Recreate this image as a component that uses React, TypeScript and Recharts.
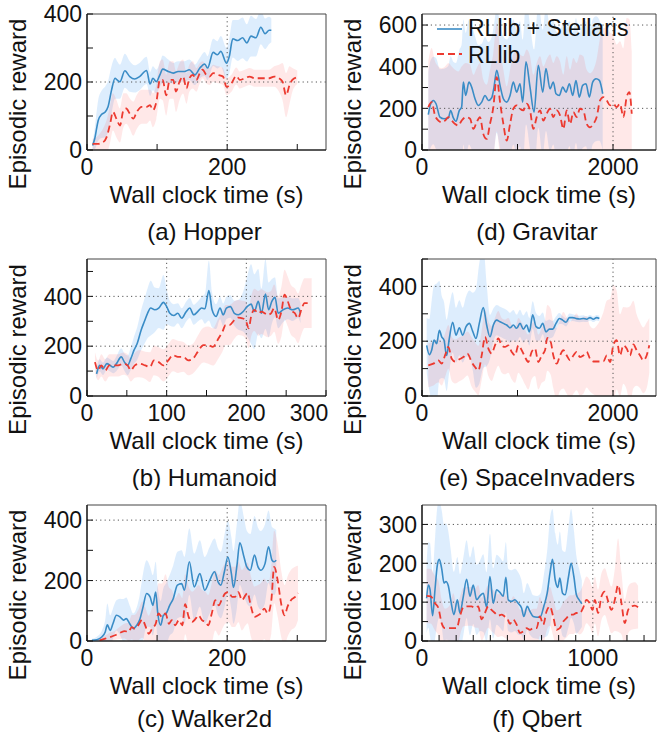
import React from "react";
import { Area, ComposedChart, Legend, Line, ReferenceArea, ReferenceLine, XAxis, YAxis } from "recharts";

// [time (s), mean reward, half-width of the shaded band]
type Point = [number, number, number];

const hopperStellaris: Point[] = [
  [8, 13, 10], [11, 33, 30], [16, 87, 60], [21, 105, 70], [26, 112, 75], [30, 127, 75], [35, 176, 70], [40, 211, 60],
  [43, 206, 55], [47, 201, 50], [54, 233, 50], [61, 216, 45], [68, 209, 40], [75, 216, 40], [85, 234, 40], [90, 194, 35],
  [94, 211, 35], [99, 201, 35], [104, 221, 35], [108, 238, 40], [116, 231, 35], [123, 226, 30], [130, 231, 30], [139, 231, 30],
  [146, 236, 30], [154, 221, 30], [161, 241, 30], [168, 253, 35], [172, 241, 35], [180, 287, 40], [186, 280, 40], [191, 290, 45],
  [199, 255, 45], [203, 275, 50], [208, 327, 55], [215, 322, 60], [222, 330, 60], [228, 315, 55], [234, 335, 60], [241, 330, 55],
  [248, 361, 50], [254, 342, 45], [260, 352, 40], [263, 352, 35],
];
const hopperRllib: Point[] = [
  [8, 18, 15], [16, 18, 25], [23, 23, 40], [28, 38, 50], [33, 77, 55], [37, 112, 55], [42, 92, 55], [47, 72, 50],
  [52, 117, 50], [56, 122, 45], [61, 107, 45], [66, 92, 50], [71, 112, 50], [78, 127, 50], [85, 127, 50], [90, 132, 45],
  [94, 117, 50], [99, 142, 50], [104, 206, 55], [108, 206, 60], [113, 161, 60], [118, 206, 55], [123, 206, 55], [127, 172, 60],
  [132, 201, 55], [137, 216, 50], [142, 181, 45], [146, 211, 40], [151, 221, 40], [156, 206, 35], [161, 226, 30], [165, 236, 25],
  [170, 221, 25], [175, 216, 25], [180, 226, 25], [187, 221, 25], [194, 216, 25], [199, 186, 25], [206, 196, 25], [213, 218, 25],
  [218, 206, 25], [225, 211, 25], [232, 216, 25], [239, 211, 25], [246, 211, 25], [253, 211, 25], [260, 211, 25], [267, 216, 30],
  [274, 211, 40], [279, 201, 55], [284, 161, 65], [289, 191, 55], [293, 206, 35], [300, 214, 20],
];

const gravitarStellaris: Point[] = [
  [66, 170, 200], [91, 222, 210], [119, 238, 210], [147, 222, 220], [188, 158, 230], [230, 150, 240], [276, 154, 250], [300, 190, 260],
  [328, 154, 270], [356, 138, 280], [391, 190, 290], [415, 206, 300], [433, 326, 300], [457, 262, 300], [492, 326, 300], [520, 302, 300],
  [555, 246, 300], [590, 214, 290], [625, 230, 280], [660, 262, 280], [695, 238, 280], [730, 251, 290], [754, 302, 300], [782, 383, 300],
  [817, 310, 300], [852, 246, 300], [887, 230, 300], [922, 262, 300], [956, 326, 300], [991, 278, 300], [1026, 318, 300], [1054, 230, 300],
  [1089, 423, 300], [1131, 302, 300], [1173, 182, 300], [1218, 407, 300], [1264, 278, 300], [1298, 391, 300], [1340, 294, 300], [1375, 326, 300],
  [1403, 270, 300], [1438, 262, 300], [1473, 302, 300], [1508, 278, 300], [1543, 318, 300], [1578, 262, 300], [1612, 334, 300], [1647, 254, 300],
  [1682, 310, 300], [1717, 318, 300], [1752, 254, 300], [1787, 326, 300], [1822, 342, 300], [1857, 334, 290], [1892, 270, 270],
];
const gravitarRllib: Point[] = [
  [66, 206, 220], [101, 230, 260], [136, 166, 260], [171, 141, 260], [206, 133, 260], [241, 141, 260], [276, 158, 260], [311, 141, 260],
  [346, 125, 260], [380, 117, 260], [415, 141, 260], [461, 158, 260], [503, 150, 260], [538, 101, 260], [572, 133, 260], [607, 158, 260],
  [642, 77, 260], [677, 53, 260], [712, 125, 260], [747, 206, 260], [782, 350, 260], [817, 230, 260], [852, 125, 260], [887, 45, 260],
  [922, 125, 260], [956, 198, 260], [991, 214, 260], [1026, 198, 260], [1061, 190, 260], [1096, 222, 260], [1131, 190, 260], [1166, 101, 260],
  [1201, 158, 260], [1236, 190, 260], [1271, 141, 260], [1305, 174, 260], [1340, 198, 260], [1375, 158, 260], [1410, 190, 260], [1445, 166, 260],
  [1480, 101, 260], [1515, 190, 260], [1550, 125, 260], [1585, 182, 260], [1619, 158, 260], [1654, 198, 260], [1689, 190, 260], [1724, 125, 260],
  [1759, 109, 260], [1794, 125, 260], [1829, 158, 280], [1864, 238, 300], [1899, 254, 330], [1934, 238, 350], [1969, 214, 350], [2003, 222, 330],
  [2038, 206, 300], [2073, 222, 300], [2108, 158, 330], [2143, 254, 380], [2171, 278, 350], [2196, 174, 300],
];

const humanoidStellaris: Point[] = [
  [12, 89, 20], [16, 123, 25], [20, 109, 25], [25, 130, 25], [29, 123, 25], [33, 116, 25], [37, 130, 30], [43, 157, 35],
  [47, 136, 35], [51, 123, 40], [55, 150, 45], [59, 184, 55], [63, 211, 65], [68, 265, 80], [72, 299, 90], [76, 332, 100],
  [80, 353, 110], [85, 346, 90], [90, 353, 80], [96, 376, 110], [100, 359, 70], [104, 332, 50], [109, 323, 45], [114, 332, 40],
  [119, 312, 40], [124, 336, 40], [129, 353, 40], [134, 326, 40], [139, 339, 40], [144, 353, 45], [148, 350, 60], [153, 423, 120],
  [157, 346, 70], [162, 319, 50], [167, 353, 45], [171, 326, 45], [175, 353, 45], [180, 359, 45], [185, 332, 50], [190, 326, 60],
  [196, 339, 80], [201, 359, 120], [206, 369, 160], [210, 339, 150], [215, 380, 130], [219, 332, 100], [224, 409, 140], [228, 346, 110],
  [232, 380, 90], [236, 396, 80], [240, 332, 60], [246, 346, 50], [252, 353, 45], [258, 346, 45], [265, 353, 40], [268, 332, 40],
];
const humanoidRllib: Point[] = [
  [10, 136, 40], [14, 103, 40], [18, 123, 45], [23, 103, 45], [28, 123, 45], [33, 123, 45], [39, 123, 45], [46, 130, 45],
  [51, 123, 45], [55, 103, 45], [60, 123, 50], [66, 130, 55], [73, 123, 55], [79, 116, 60], [84, 143, 60], [90, 136, 60],
  [96, 123, 65], [102, 143, 65], [108, 164, 65], [114, 157, 65], [121, 157, 60], [127, 143, 60], [133, 150, 60], [139, 177, 65],
  [146, 204, 70], [152, 204, 75], [158, 197, 75], [165, 231, 80], [170, 258, 80], [174, 285, 80], [179, 285, 80], [185, 305, 75],
  [190, 315, 70], [195, 312, 70], [199, 305, 75], [203, 272, 80], [206, 319, 80], [210, 346, 85], [215, 332, 90], [219, 339, 90],
  [223, 332, 90], [227, 326, 90], [231, 332, 90], [235, 353, 95], [240, 305, 95], [244, 339, 100], [248, 407, 100], [252, 380, 100],
  [256, 346, 100], [261, 332, 100], [265, 312, 100], [269, 346, 100], [273, 373, 100], [278, 373, 100], [282, 373, 100],
];

const spaceStellaris: Point[] = [
  [49, 185, 100], [77, 151, 130], [101, 167, 180], [126, 204, 200], [154, 191, 220], [182, 240, 180], [206, 216, 150], [230, 204, 140],
  [258, 148, 130], [286, 210, 120], [321, 269, 110], [356, 222, 100], [391, 249, 100], [426, 222, 100], [461, 253, 110], [496, 265, 120],
  [530, 237, 140], [565, 210, 180], [600, 265, 220], [642, 323, 220], [677, 259, 150], [712, 216, 80], [747, 259, 60], [782, 277, 55],
  [817, 271, 55], [852, 265, 55], [887, 259, 55], [922, 249, 55], [956, 259, 55], [991, 247, 50], [1026, 265, 50], [1061, 244, 50],
  [1096, 259, 50], [1124, 234, 50], [1159, 296, 50], [1194, 253, 50], [1229, 247, 45], [1264, 265, 40], [1298, 234, 40], [1333, 244, 35],
  [1368, 244, 30], [1403, 265, 25], [1438, 283, 20], [1473, 277, 15], [1508, 269, 15], [1543, 286, 15], [1578, 286, 12], [1612, 283, 12],
  [1647, 281, 12], [1689, 283, 12], [1724, 280, 10], [1759, 286, 10], [1794, 280, 10], [1829, 286, 10], [1857, 283, 10],
];
const spaceRllib: Point[] = [
  [66, 112, 80], [119, 118, 80], [171, 130, 80], [206, 118, 80], [241, 148, 80], [276, 179, 80], [311, 136, 80], [346, 126, 80],
  [391, 134, 80], [433, 142, 80], [475, 155, 80], [520, 124, 90], [555, 106, 90], [590, 93, 90], [625, 148, 90], [660, 216, 100],
  [695, 173, 100], [730, 155, 100], [764, 185, 100], [799, 210, 100], [834, 185, 100], [869, 179, 100], [904, 185, 100], [939, 161, 100],
  [974, 148, 100], [1009, 185, 100], [1044, 167, 100], [1079, 142, 100], [1113, 124, 100], [1148, 161, 100], [1183, 173, 100], [1218, 124, 100],
  [1253, 148, 100], [1288, 167, 110], [1312, 212, 120], [1347, 198, 120], [1375, 148, 120], [1410, 118, 130], [1445, 148, 130], [1480, 167, 140],
  [1515, 148, 140], [1550, 130, 140], [1585, 148, 140], [1619, 161, 140], [1654, 142, 140], [1689, 148, 140], [1724, 161, 130], [1759, 136, 120],
  [1794, 126, 120], [1829, 126, 130], [1864, 126, 150], [1899, 126, 180], [1934, 148, 200], [1969, 124, 230], [2003, 185, 220], [2038, 204, 180],
  [2073, 148, 150], [2108, 185, 140], [2143, 173, 150], [2178, 148, 180], [2213, 188, 160], [2248, 167, 130], [2283, 148, 120], [2317, 130, 120],
  [2352, 148, 120], [2380, 185, 100],
];

const walkerStellaris: Point[] = [
  [7, 2, 5], [14, 4, 10], [21, 13, 20], [26, 30, 40], [29, 54, 70], [33, 35, 50], [37, 57, 50], [42, 85, 50],
  [47, 80, 60], [52, 69, 70], [56, 74, 70], [61, 57, 60], [66, 41, 50], [71, 52, 60], [75, 69, 80], [80, 113, 110],
  [85, 157, 110], [90, 146, 100], [94, 118, 100], [98, 162, 100], [101, 91, 90], [105, 52, 80], [109, 85, 90], [113, 91, 100],
  [118, 118, 100], [123, 140, 110], [129, 185, 110], [135, 190, 110], [139, 168, 110], [146, 262, 110], [153, 179, 110], [161, 223, 110],
  [168, 168, 110], [175, 201, 110], [182, 229, 110], [187, 196, 110], [191, 185, 110], [196, 229, 120], [201, 278, 120], [206, 223, 120],
  [209, 177, 120], [214, 251, 140], [218, 325, 140], [224, 278, 130], [228, 245, 120], [233, 234, 120], [239, 284, 130], [244, 245, 130],
  [248, 234, 130], [254, 256, 130], [259, 312, 120], [264, 267, 110], [267, 262, 110], [270, 267, 100],
];
const walkerRllib: Point[] = [
  [18, 2, 5], [26, 8, 10], [33, 13, 15], [40, 19, 15], [47, 27, 20], [54, 33, 25], [59, 30, 30], [64, 46, 40],
  [68, 41, 45], [73, 52, 50], [79, 71, 60], [83, 52, 60], [88, 24, 60], [93, 41, 70], [98, 57, 80], [102, 91, 100],
  [107, 80, 110], [112, 91, 130], [117, 57, 120], [121, 69, 100], [126, 52, 90], [131, 69, 90], [136, 52, 90], [140, 122, 100],
  [145, 80, 100], [150, 63, 100], [155, 74, 100], [159, 85, 100], [164, 69, 100], [169, 63, 100], [173, 52, 100], [178, 91, 100],
  [183, 135, 100], [188, 118, 100], [192, 135, 100], [197, 157, 100], [202, 162, 100], [207, 146, 100], [211, 146, 100], [216, 162, 100],
  [221, 135, 100], [226, 151, 100], [229, 159, 100], [234, 113, 100], [239, 80, 100], [244, 85, 100], [248, 91, 100], [253, 107, 100],
  [258, 91, 100], [263, 135, 110], [267, 245, 120], [272, 201, 120], [277, 124, 110], [282, 85, 100], [286, 113, 100], [291, 135, 100],
  [297, 146, 100], [301, 159, 90],
];

const qbertStellaris: Point[] = [
  [27, 110, 90], [37, 144, 110], [47, 132, 120], [62, 65, 110], [76, 132, 130], [90, 196, 150], [101, 210, 150], [115, 187, 150],
  [129, 149, 150], [140, 153, 150], [154, 142, 140], [168, 106, 130], [187, 68, 110], [207, 106, 110], [222, 72, 100], [242, 115, 100],
  [261, 159, 100], [281, 115, 100], [300, 144, 100], [320, 106, 90], [339, 116, 90], [359, 123, 100], [378, 87, 90], [398, 166, 110],
  [417, 97, 90], [437, 132, 90], [456, 125, 90], [476, 115, 90], [491, 164, 90], [505, 106, 80], [524, 102, 80], [544, 106, 80],
  [563, 97, 80], [583, 85, 70], [596, 63, 60], [616, 89, 60], [632, 76, 60], [651, 63, 55], [674, 61, 55], [694, 63, 60],
  [713, 89, 80], [733, 123, 110], [749, 174, 140], [764, 210, 130], [780, 157, 120], [795, 138, 110], [807, 162, 120], [823, 123, 110],
  [838, 119, 110], [858, 166, 130], [873, 200, 140], [889, 166, 120], [904, 119, 100], [920, 106, 80], [936, 96, 60],
];
const qbertRllib: Point[] = [
  [27, 116, 70], [51, 115, 70], [76, 97, 70], [96, 85, 70], [115, 46, 60], [135, 33, 50], [164, 33, 60], [183, 33, 90],
  [203, 33, 60], [222, 63, 50], [242, 87, 50], [265, 89, 50], [290, 89, 50], [310, 85, 50], [329, 89, 55], [349, 56, 55],
  [368, 72, 55], [388, 89, 55], [407, 80, 55], [427, 72, 55], [446, 65, 55], [466, 68, 55], [485, 63, 55], [499, 59, 55],
  [515, 44, 55], [534, 55, 60], [554, 42, 60], [573, 21, 60], [593, 25, 55], [612, 33, 50], [632, 29, 50], [651, 33, 50],
  [671, 33, 50], [690, 63, 50], [710, 42, 50], [729, 76, 50], [749, 89, 50], [768, 63, 50], [788, 29, 50], [807, 33, 50],
  [827, 50, 50], [846, 59, 50], [866, 68, 50], [885, 68, 50], [904, 72, 50], [924, 72, 55], [943, 85, 60], [963, 106, 60],
  [982, 97, 60], [998, 80, 60], [1012, 106, 60], [1031, 72, 60], [1051, 115, 60], [1070, 127, 60], [1090, 102, 60], [1109, 80, 60],
  [1129, 106, 80], [1148, 144, 120], [1168, 97, 80], [1187, 46, 60], [1207, 80, 60], [1226, 89, 60], [1246, 91, 60], [1265, 87, 55],
];

// ticks and tick labels
const mujocoXTicks = [0, 100, 200, 300];
const mujocoXLabels = [0, 200];
const humanoidXTicks = [0, 50, 100, 150, 200, 250, 300];
const humanoidXLabels = [0, 100, 200, 300];
const atariXTicks = [0, 1000, 2000];
const atariXLabels = [0, 2000];
const qbertXTicks = [0, 100, 200, 300, 400, 500, 600, 700, 800, 900, 1000, 1100, 1200, 1300];
const qbertXLabels = [0, 1000];
const hopperYTicks = [0, 100, 200, 300, 400];
const gravitarYTicks = [0, 100, 200, 300, 400, 500, 600];
const humanoidYTicks = [0, 100, 200, 300, 400, 500];
const walkerYTicks = [0, 100, 200, 300, 400];
const qbertYTicks = [0, 50, 100, 150, 200, 250, 300];
const evenHundreds = [0, 200, 400, 600];
const qbertYLabels = [0, 100, 200, 300];

const seriesNames = ["RLlib + Stellaris", "RLlib"];

const FONT = '"Liberation Sans", Arial, Helvetica, sans-serif';
const BLUE = "#3a8cc6";
const RED = "#ec3a30";
const INK = "#111";
const TICK_FS = 23;
const TITLE_FS = 24;

const toRows = (pts: Point[]) => pts.map(([t, v, w]) => ({ t, v, band: [v - w, v + w] }));

type PanelProps = {
  left: number;
  top: number;
  width: number;
  height: number;
  margin: { top: number; right: number; bottom: number; left: number };
  captionGap: number;
  caption: string;
  xMax: number;
  yMax: number;
  xTicks: number[];
  xLabels: number[];
  yTicks: number[];
  yLabels: number[];
  xGrid: number[];
  yGrid: number[];
  stellaris: Point[];
  rllib: Point[];
  legend?: boolean;
  lastLabelShift?: number;
};

function XTick(props: any) {
  const { x, y, payload, labels, lastShift } = props;
  const show = labels.includes(payload.value);
  const dx = lastShift && payload.value === labels[labels.length - 1] ? lastShift : 0;
  return (
    <g>
      <line x1={x} x2={x} y1={y} y2={y - 6} stroke={INK} strokeWidth={1} />
      {show && (
        <text x={x + dx} y={y + 25} textAnchor="middle" fontSize={TICK_FS} fontFamily={FONT} fill={INK}>
          {payload.value}
        </text>
      )}
    </g>
  );
}

function YTick(props: any) {
  const { x, y, payload, labels } = props;
  const show = labels.includes(payload.value);
  return (
    <g>
      <line x1={x} x2={x + 6} y1={y} y2={y} stroke={INK} strokeWidth={1} />
      {show && (
        <text x={x - 5} y={y} dy="0.36em" textAnchor="end" fontSize={TICK_FS} fontFamily={FONT} fill={INK}>
          {payload.value}
        </text>
      )}
    </g>
  );
}

function LegendBox() {
  return (
    <svg width={210} height={58} style={{ display: "block" }}>
      <line x1={7} x2={32} y1={19} y2={19} stroke={BLUE} strokeWidth={1.6} />
      <text x={38} y={26} fontSize={23} fontFamily={FONT} fill={INK}>{seriesNames[0]}</text>
      <line x1={7} x2={32} y1={44} y2={44} stroke={RED} strokeWidth={1.8} strokeDasharray="7 4" />
      <text x={38} y={53} fontSize={23} fontFamily={FONT} fill={INK}>{seriesNames[1]}</text>
    </svg>
  );
}

function Panel(p: PanelProps) {
  const blue = toRows(p.stellaris);
  const red = toRows(p.rllib);
  return (
    <div style={{ position: "absolute", left: p.left, top: p.top, width: p.width, height: p.height }}>
      <ComposedChart width={p.width} height={p.height} margin={p.margin}>
        <XAxis
          type="number"
          dataKey="t"
          domain={[0, p.xMax]}
          ticks={p.xTicks}
          interval={0}
          allowDataOverflow
          height={1}
          tickSize={0}
          tickMargin={0}
          tickLine={false}
          axisLine={{ stroke: INK, strokeWidth: 1.2 }}
          tick={(t: any) => <XTick {...t} labels={p.xLabels} lastShift={p.lastLabelShift} />}
          label={{
            content: (lp: any) => {
              const vb = lp.viewBox;
              const cx = vb.x + vb.width / 2;
              return (
                <g>
                  <text x={cx} y={vb.y + 53} textAnchor="middle" fontSize={TITLE_FS} fontFamily={FONT} fill={INK}>
                    Wall clock time (s)
                  </text>
                  <text x={cx - 2} y={vb.y + p.captionGap} textAnchor="middle" fontSize={TITLE_FS} fontFamily={FONT} fill={INK}>
                    {p.caption}
                  </text>
                </g>
              );
            },
          }}
        />
        <YAxis
          type="number"
          domain={[0, p.yMax]}
          ticks={p.yTicks}
          interval={0}
          allowDataOverflow
          width={1}
          tickSize={0}
          tickMargin={0}
          tickLine={false}
          axisLine={{ stroke: INK, strokeWidth: 1.2 }}
          tick={(t: any) => <YTick {...t} labels={p.yLabels} />}
          label={{
            content: (lp: any) => {
              const vb = lp.viewBox;
              const bx = vb.x + vb.width - 61;
              const cy = vb.y + vb.height / 2 + 22;
              return (
                <text x={bx} y={cy} transform={`rotate(-90, ${bx}, ${cy})`} textAnchor="middle" fontSize={TITLE_FS} fontFamily={FONT} fill={INK}>
                  Episodic reward
                </text>
              );
            },
          }}
        />
        <Area data={blue} dataKey="band" type="monotone" stroke="none" fill="#2a8ff0" fillOpacity={0.16} isAnimationActive={false} />
        <Area data={red} dataKey="band" type="monotone" stroke="none" fill="#ff4b4b" fillOpacity={0.13} isAnimationActive={false} />
        {p.yGrid.map((v) => (
          <ReferenceLine key={`y${v}`} y={v} stroke="#555" strokeDasharray="1.2 3.2" strokeWidth={1} />
        ))}
        {p.xGrid.map((v) => (
          <ReferenceLine key={`x${v}`} x={v} stroke="#555" strokeDasharray="1.2 3.2" strokeWidth={1} />
        ))}
        <Line data={blue} dataKey="v" type="monotone" stroke={BLUE} strokeWidth={1.6} dot={false} isAnimationActive={false} />
        <Line data={red} dataKey="v" type="monotone" stroke={RED} strokeWidth={1.8} strokeDasharray="7 4" dot={false} isAnimationActive={false} />
        <ReferenceArea x1={0} x2={p.xMax} y1={0} y2={p.yMax} fill="none" fillOpacity={0} stroke="#444" strokeWidth={1} />
        {p.legend && (
          <Legend
            layout="horizontal"
            verticalAlign="middle"
            align="center"
            wrapperStyle={{ left: 100, top: 10, width: 210, height: 58 }}
            content={() => <LegendBox />}
          />
        )}
      </ComposedChart>
    </div>
  );
}

const LEFT = { left: 0, width: 330, ml: 86, mr: 4 };
const RIGHT = { left: 330, width: 329, ml: 91, mr: 3 };
const ROW1 = { top: 0, height: 245, mt: 14, mb: 94, cap: 90 };
const ROW2 = { top: 245, height: 245, mt: 14, mb: 93, cap: 90 };
const ROW3 = { top: 490, height: 244, mt: 15, mb: 92, cap: 86 };

function place(col: typeof LEFT, row: typeof ROW1) {
  return {
    left: col.left,
    top: row.top,
    width: col.width,
    height: row.height,
    captionGap: row.cap,
    margin: { top: row.mt, right: col.mr, bottom: row.mb, left: col.ml },
  };
}

export default function App() {
  return (
    <div style={{ position: "absolute", left: 0, top: 0, width: 659, height: 734, background: "#fff" }}>
      <Panel
        {...place(LEFT, ROW1)}
        caption="(a) Hopper"
        xMax={341}
        yMax={400}
        xTicks={mujocoXTicks}
        xLabels={mujocoXLabels}
        yTicks={hopperYTicks}
        yLabels={evenHundreds}
        xGrid={[200]}
        yGrid={[200]}
        stellaris={hopperStellaris}
        rllib={hopperRllib}
      />
      <Panel
        {...place(RIGHT, ROW1)}
        caption="(d) Gravitar"
        xMax={2450}
        yMax={653}
        xTicks={atariXTicks}
        xLabels={atariXLabels}
        yTicks={gravitarYTicks}
        yLabels={evenHundreds}
        xGrid={[2000]}
        yGrid={[200, 600]}
        stellaris={gravitarStellaris}
        rllib={gravitarRllib}
        legend
      />
      <Panel
        {...place(LEFT, ROW2)}
        caption="(b) Humanoid"
        xMax={300}
        yMax={550}
        xTicks={humanoidXTicks}
        xLabels={humanoidXLabels}
        yTicks={humanoidYTicks}
        yLabels={evenHundreds}
        xGrid={[100, 200]}
        yGrid={[200, 400]}
        stellaris={humanoidStellaris}
        rllib={humanoidRllib}
        lastLabelShift={-17}
      />
      <Panel
        {...place(RIGHT, ROW2)}
        caption="(e) SpaceInvaders"
        xMax={2450}
        yMax={500}
        xTicks={atariXTicks}
        xLabels={atariXLabels}
        yTicks={humanoidYTicks}
        yLabels={evenHundreds}
        xGrid={[2000]}
        yGrid={[200, 400]}
        stellaris={spaceStellaris}
        rllib={spaceRllib}
      />
      <Panel
        {...place(LEFT, ROW3)}
        caption="(c) Walker2d"
        xMax={341}
        yMax={450}
        xTicks={mujocoXTicks}
        xLabels={mujocoXLabels}
        yTicks={walkerYTicks}
        yLabels={evenHundreds}
        xGrid={[200]}
        yGrid={[200, 400]}
        stellaris={walkerStellaris}
        rllib={walkerRllib}
      />
      <Panel
        {...place(RIGHT, ROW3)}
        caption="(f) Qbert"
        xMax={1370}
        yMax={350}
        xTicks={qbertXTicks}
        xLabels={qbertXLabels}
        yTicks={qbertYTicks}
        yLabels={qbertYLabels}
        xGrid={[1000]}
        yGrid={[100, 200, 300]}
        stellaris={qbertStellaris}
        rllib={qbertRllib}
      />
    </div>
  );
}
